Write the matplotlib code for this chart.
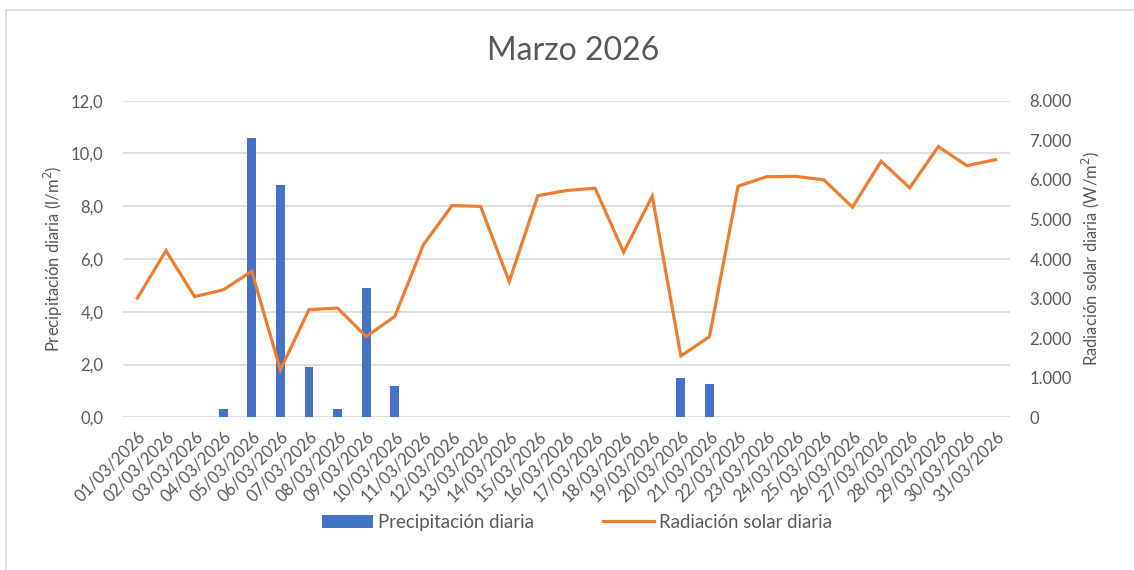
import matplotlib.pyplot as plt
from matplotlib.lines import Line2D
from matplotlib.ticker import FuncFormatter

plt.rcParams['font.family'] = ['Lato', 'DejaVu Sans']

# Data
dates = [f"{d:02d}/03/2026" for d in range(1, 32)]
precipitacion = [0, 0, 0, 0.3, 10.6, 8.8, 1.9, 0.3, 4.9, 1.2,
                 0, 0, 0, 0, 0, 0, 0, 0, 0, 1.5,
                 1.25, 0, 0, 0, 0, 0, 0, 0, 0, 0, 0]
radiacion = [3010, 4210, 3050, 3220, 3690, 1200, 2720, 2760, 2040, 2550,
             4360, 5350, 5330, 3430, 5600, 5730, 5790, 4170, 5590, 1550,
             2040, 5840, 6080, 6090, 6000, 5310, 6470, 5800, 6840, 6360, 6510]

text_col = '#595959'
grid_col = '#D9D9D9'

fig = plt.figure(figsize=(11.34, 5.70), dpi=100)
ax = fig.add_axes([0.1085, 0.2679, 0.782, 0.5554])
ax2 = ax.twinx()

x = range(len(dates))
bars = ax.bar(x, precipitacion, width=0.31, color='#4472C4', zorder=2,
              label='Precipitación diaria')
line, = ax2.plot(x, radiacion, color='#ED7D31', linewidth=2.3,
                 solid_joinstyle='miter', label='Radiación solar diaria')

ax.set_xlim(-0.5, len(dates) - 0.5)
ax.set_ylim(0, 12)
ax2.set_ylim(0, 8000)
ax.set_yticks(range(0, 13, 2))
ax2.set_yticks(range(0, 8001, 1000))
ax.yaxis.set_major_formatter(FuncFormatter(lambda v, p: f"{v:.1f}".replace('.', ',')))
ax2.yaxis.set_major_formatter(FuncFormatter(lambda v, p: f"{int(v):,}".replace(',', '.')))

ax.set_xticks(list(x))
ax.set_xticklabels(dates, rotation=45, ha='right', rotation_mode='anchor')

for a in (ax, ax2):
    for s in a.spines.values():
        s.set_visible(False)
    a.tick_params(length=0, labelsize=12, colors=text_col)
ax.tick_params(axis='x', pad=8)
ax.tick_params(axis='y', pad=14)
ax2.tick_params(axis='y', pad=14)

ax.yaxis.grid(True, color=grid_col, linewidth=1.2, zorder=0)
ax.set_axisbelow(True)

ax.set_ylabel('Precipitación diaria (l/m$^2$)', fontsize=12, color=text_col, labelpad=4)
ax2.set_ylabel('Radiación solar diaria (W/m$^2$)', fontsize=12, color=text_col, labelpad=6)

fig.text(0.505, 0.91, 'Marzo 2026', ha='center', va='center', fontsize=23, color=text_col)

fig.legend(handles=[bars, line], loc='center', bbox_to_anchor=(0.509, 0.084), ncol=2,
           frameon=False, fontsize=13.4, labelcolor=text_col, handlelength=2.75,
           handletextpad=0.27, columnspacing=3.7)

# chart area border (only top and left visible in the reference)
fig.add_artist(Line2D([0.0053, 0.0053], [0, 0.9825], color=grid_col, linewidth=1.2))
fig.add_artist(Line2D([0.0053, 1], [0.9825, 0.9825], color=grid_col, linewidth=1.2))

fig.savefig('out.png', dpi=100)
